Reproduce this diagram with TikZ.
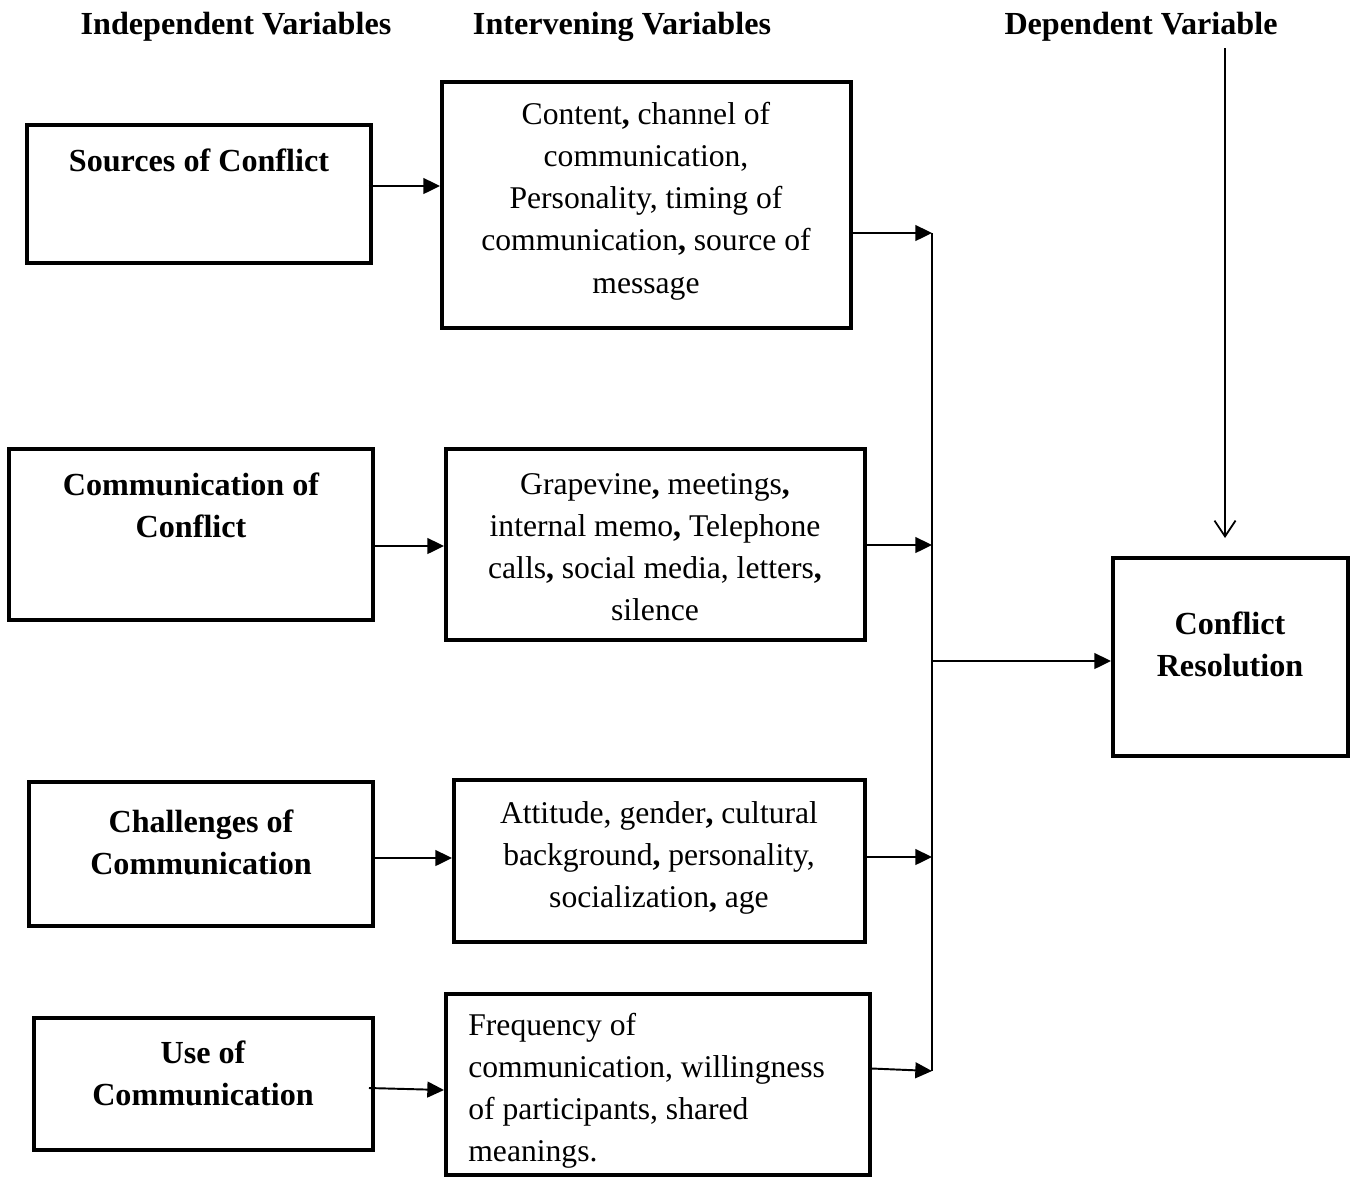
\documentclass[tikz,border=0pt]{standalone}
\usepackage{fontspec}
\setmainfont{Liberation Serif}
\usetikzlibrary{arrows.meta,calc}

\begin{document}
\begin{tikzpicture}[x=0.02cm,y=-0.02cm,>={Triangle[length=9.5pt,width=9pt]},
  box/.style={draw,line width=2.3pt,inner sep=0pt},
  head/.style={font=\fontsize{18.3}{24}\selectfont\bfseries,align=center,inner sep=0pt},
  txt/.style={font=\fontsize{18}{24}\selectfont,align=center,inner sep=0pt},
  link/.style={->,line width=1.1pt}]
\useasboundingbox (0,0) rectangle (1352,1178);
\node[head] (indep) at (236,27) {Independent Variables};
\node[head] (inter) at (622,27) {Intervening Variables};
\node[head] (dep) at (1141,27) {Dependent Variable};

\node[box,minimum width=6.88cm,minimum height=2.76cm] (src) at (199,194) {};
\node[head] (src-t) at (199,160) {Sources of Conflict};
\node[box,minimum width=8.18cm,minimum height=4.92cm] (ch1) at (646.5,205) {};
\node[txt] (ch1-t) at (646,201) {Content\textbf{,} channel of\\communication,\\Personality, timing of\\communication\textbf{,} source of\\message};

\node[box,minimum width=7.28cm,minimum height=3.42cm] (com) at (191,534.5) {};
\node[head] (com-t) at (191,505) {Communication of\\Conflict};
\node[box,minimum width=8.38cm,minimum height=3.82cm] (ch2) at (655.5,544.5) {};
\node[txt] (ch2-t) at (655,547) {Grapevine\textbf{,} meetings\textbf{,}\\internal memo\textbf{,} Telephone\\calls\textbf{,} social media, letters\textbf{,}\\silence};

\node[box,minimum width=6.88cm,minimum height=2.88cm] (chl) at (201,854) {};
\node[head] (chl-t) at (201,842) {Challenges of\\Communication};
\node[box,minimum width=8.22cm,minimum height=3.24cm] (ch3) at (659.5,861) {};
\node[txt] (ch3-t) at (659,858) {Attitude, gender\textbf{,} cultural\\background\textbf{,} personality,\\socialization\textbf{,} age};

\node[box,minimum width=6.78cm,minimum height=2.64cm] (use) at (203.5,1084) {};
\node[head] (use-t) at (203,1073) {Use of\\Communication};
\node[box,minimum width=8.48cm,minimum height=3.62cm] (ch4) at (658,1084.5) {};
\node[txt,align=left,anchor=west] (ch4-t) at (468,1091) {Frequency of\\communication, willingness\\of participants, shared\\meanings.};

\node[box,minimum width=4.7cm,minimum height=3.96cm] (res) at (1230.5,657) {};
\node[head] (res-t) at (1230,644) {Conflict\\Resolution};

\coordinate (jtop) at (932,233);
\coordinate (jbot) at (932,1071);
\coordinate (dtop) at (1225,48);

\draw[link] ($(src.east)+(-4,-8)$) -- ($(src.east -| ch1.west)+(0,-8)$);
\draw[link] ($(com.east)+(0,11.5)$) -- ($(com.east -| ch2.west)+(0,11.5)$);
\draw[link] ($(chl.east)+(0,4)$) -- ($(chl.east -| ch3.west)+(0,4)$);
\draw[link] ($(use.east)+(-6,4)$) -- ($(use.east -| ch4.west)+(0,6)$);

\draw[link] (ch1.east |- jtop) -- (jtop);
\draw[link] ($(ch2.east)+(0,0.5)$) -- ($(ch2.east -| jtop)+(0,0.5)$);
\draw[link] ($(ch3.east)+(0,-4)$) -- ($(ch3.east -| jtop)+(0,-4)$);
\draw[link] ($(ch4.east)+(0,-16)$) -- (jbot);
\draw[line width=0.9pt] (jtop) -- (jbot);
\draw[link] ($(jtop |- res.west)+(0,4)$) -- ($(res.west)+(0,4)$);

\draw[-{Straight Barb[length=9pt,width=12pt]},line width=1pt] (dtop) -- ($(res.north -| dtop)+(0,-18)$);
\end{tikzpicture}
\end{document}
